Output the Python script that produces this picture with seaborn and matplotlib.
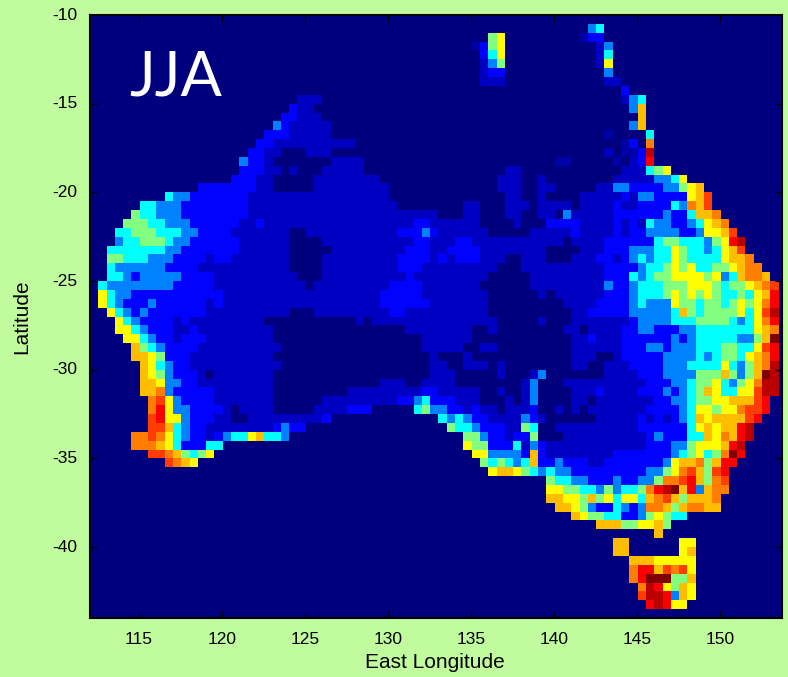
import numpy as np
import seaborn as sns
import matplotlib
matplotlib.use('Agg')
import matplotlib.pyplot as plt
from matplotlib.colors import LinearSegmentedColormap

# level of each letter on the jet scale
LEVELS = {'.': 0.0, 'a': 0.04, 'b': 0.07, 'c': 0.125, 'd': 0.25, 'e': 0.375, 'f': 0.5,
          'g': 0.625, 'h': 0.6875, 'i': 0.75, 'j': 0.8125, 'k': 0.875, 'l': 0.9375, 'm': 1.0}

# matlab style jet
JET = LinearSegmentedColormap.from_list('matlab_jet', [
    (0.0, '#00007f'), (0.125, '#0000ff'), (0.375, '#00ffff'),
    (0.625, '#ffff00'), (0.875, '#ff0000'), (1.0, '#7f0000')])

# one string per grid row (north to south), blocks of ten columns
D = '..........'
ROWS = [
    '',
    ' '.join([D, D, D, D, D, D, 'de........']),
    ' '.join([D, D, D, D, '........fg', '.........a', 'cc........']),
    ' '.join([D, D, D, D, '......acfg', D, '.bd.......']),
    ' '.join([D, D, D, D, '.......ceg', D, '.be.......']),
    ' '.join([D, D, D, D, '.......bdf', D, '.bg.......']),
    ' '.join([D, D, D, D, '.......bcc', D, '..d.......']),
    ' '.join([D, D, D, D, '.......bbb', D, '..bb......']),
    ' '.join([D, D, D, D, D, D, '....c.....']),
    ' '.join([D, D, '.....bbb..', D, D, D, '....bde...']),
    ' '.join([D, D, '....cbb...', D, D, D, '.....dh...']),
    ' '.join([D, D, '...ccbbb..', D, D, D, '......h...']),
    ' '.join([D, D, '..dcbbbbb.', D, D, D, '.....dh...']),
    ' '.join([D, D, '.cccbbbbb.', D, D, D, '..a....e..']),
    ' '.join([D, D, 'ccbbbbbbbb', 'bb........', D, D, '....ac.i..']),
    ' '.join([D, '.........c', 'cbb...bbb.', D, D, D, '..b.aacl..']),
    ' '.join([D, '........dc', 'cb.......b', 'bbb.......', D, '......aa..', '...a.bck..']),
    ' '.join([D, '........cc', 'cbb.b...bb', 'bbb.......', D, 'bb........', '....bbbefg']),
    ' '.join([D, '.......ccc', 'bb.....bbb', 'bbbbb.....', '.........b', 'bb..b.....', '...bbbbbdd', 'eg........']),
    ' '.join([D, '...ccccccc', 'bb.....bbb', 'bbbbbb....', '.........b', 'bb..bb....', '.bbddccccd', 'dfgh......']),
    ' '.join(['.........e', 'ddcccccccb', 'bbbbbbbbbb', 'bbbbbb....', D, 'bb..b....b', 'bbbbcbddcc', 'ccghj.....']),
    ' '.join(['......eedd', 'dccccccccb', 'bbbbbbbbbb', 'bbbbbbb...', '.....bb...', 'bbb.bbbb.b', 'bbbcbbcccc', 'edihj.....']),
    ' '.join(['.....feedd', 'dccccccccb', 'bbbbbbbbbb', 'bbbbbbbbbb', 'bb...bb...', 'bb..bb.dbb', 'bbbccccccd', 'ccehhi....']),
    ' '.join(['....fffeed', 'ddccccccbb', 'cbbbbbbbbb', 'bbbbbbbbbc', 'cbbbbbb...', '.b...ccccb', 'bbbcbcbedd', 'ccdeghi...']),
    ' '.join(['...eefffee', 'eddccccbbb', 'bbbb..bbbb', 'bbbbbbbccc', 'dcbbbbbb..', '...bbbbbcb', 'bbbcbccddd', 'dccdgghj..']),
    ' '.join(['...deefffe', 'ddccccccbb', 'bbbb....bb', 'bbbbbbbbbc', 'cbbbccbbbb', 'bbbbbbb.bb', 'bbccccccef', 'feeedfgkl.']),
    ' '.join(['..eeeeeeed', 'dcccccccbb', 'bbbb.....b', 'bbbbbbbbcc', 'cbbccccbbb', 'bbbbb....b', 'bbcccdddee', 'gfeedeghj.']),
    ' '.join(['..ffeeeddd', 'ccccbccbbb', 'bbbb....bb', 'bbbbbbbccc', 'cbcbcccbbb', '..bbb...bb', 'bccbcdedee', 'gfeeeeghhi']),
    ' '.join(['..eddddddc', 'cccbbbbbbb', 'bbbb....bb', 'bbbbbbbccc', 'bbbbbbbbb.', '..bbbbbbbb', 'bbccccdeef', 'gfgeeffghi', 'i...']),
    ' '.join(['..eedcdddd', 'dccccbbbbb', 'bbbbb...bb', 'bbbbbbbbcb', 'bbbbbbbb..', '...bbbbbbb', 'bbcccedeff', 'ggggfgdehi', 'ih..']),
    ' '.join(['.edddddddd', 'cccccbbbbb', 'bbbbbb.bbb', 'bbbbbbcccc', 'bbbbbbb...', '...bbbbbbb', 'bbdccdeeef', 'ffgggfeffg', 'hij.']),
    ' '.join(['.geddccccc', 'ccccccbbbb', 'bbbbbbbbbb', 'bbbbbccccc', 'bbbbbbbb..', '....b.bbbb', 'bbcccdeeef', 'gfgfgfeefe', 'ghk.']),
    ' '.join(['.gedcccdcc', 'ccccbcbbbb', 'bbbbbbbbbb', 'bbbbbccccc', 'cbbbbbbb..', '.......bbb', 'bccccdeddd', 'gffeffefgf', 'gik.']),
    ' '.join(['..gedcdccc', 'ccccbbbbbb', 'bbbb...bbb', 'bbbbbbccbb', 'bbbbbbbb..', '........bb', 'cccccddddd', 'ehfeffffge', 'gjl.']),
    ' '.join(['...gedcccc', 'bcbbbbbbbb', 'b.........', '..b.bbbbbb', 'bbbbbbbbb.', '....b...bb', 'bbbbbcdddd', 'eeeffffede', 'gik.']),
    ' '.join(['...ggedccc', 'bbcbbbbbbb', 'bb........', '........bb', 'bbbbbb..b.', '.......bb.', 'bbbbccddcc', 'cddeeeeeee', 'ghi.']),
    ' '.join(['....ggedcc', 'bcccbbbbbb', 'bb........', D, 'bbbbbb....', '........bb', 'cbbbcccccc', 'dcdeeeeedd', 'fhm.']),
    ' '.join(['.....hfedc', 'cccbbbbbbb', 'bbb.......', D, 'bbbbb..bb.', '........bb', 'bbbbcccddc', 'dddeeeffee', 'gjk.']),
    ' '.join(['.....hhgfc', 'ccbbbbbbbb', 'bb........', D, '.b...b....', '........bb', 'b..bcccccd', 'dddedeffeg', 'hik.']),
    ' '.join(['......hged', 'ccbbbbbbbb', 'bbb.......', D, '.bb..bbb.b', '........bb', '..bbbccccd', 'ddeeeegedf', 'hil.']),
    ' '.join(['......hgfd', 'cccb.bbbbb', 'bb........', D, '.bbb.....b', '...bd.....', '..bbbbcccd', 'dddfffhfdf', 'hml.']),
    ' '.join(['......hhgd', 'dccbbbbbbb', 'bb........', '.....bbb..', 'bbbb......', '..bd...bbb', 'bbbbbbbccc', 'ddeffgedfg', 'ill.']),
    ' '.join(['......hhid', 'cccccbbbbb', 'bb........', '.bbbbbbbbb', 'ccbbbbb..b', '..bd....bb', 'bcbbbbcccd', 'cdefhgeegg', 'jll.']),
    ' '.join(['.......ijg', 'dccccbbbbb', 'bb......bb', 'bbbbbbbccd', 'ecccbbb...', 'b.bd....bb', '.bbbbbbbcc', 'ddeffgghhh', 'jk..']),
    ' '.join(['.......ikg', 'ddccccb.bb', 'bb.....bbb', 'bccc.....e', 'fddccbcbb.', 'bbbc..b.b.', 'bbbbbbbccc', 'cdeggfggij', 'jk..']),
    ' '.join(['.......jkg', 'gdcccbb..b', 'bbbbbbbbc.', D, '..ededccbb', 'bbdcb.....', '.bbbbbcbcb', 'cdehghhhhj', 'k...']),
    ' '.join(['.......jjh', 'edccbbbbbb', 'bbcdcc....', D, '...feedccc', 'bbfe..bbbb', 'bbbbbbcccc', 'cceghghhkl']),
    ' '.join(['.....iijig', 'edccbcdeeg', 'heed......', D, '.....ffdcc', 'bccf...bbb', 'bbbbbbbcdc', 'cceehgihkl']),
    ' '.join(['.....iiihg', 'ecccee....', D, D, '.....gffcc', 'cebdcbbbbb', 'bbbbbbbccc', 'ddfggghkl.']),
    ' '.join(['.......jji', 'hfefg.....', D, D, '......ggdd', 'ddchcbbbbb', 'bbbccccccc', 'defgefimk.']),
    ' '.join(['.........j', 'ihg.......', D, D, '.......fef', 'edehccdccc', 'bbcccccccd', 'ghhifhkk..']),
    ' '.join([D, D, D, D, '........gh', 'hgfededdcc', 'cccccccddf', 'gijhfjk...']),
    ' '.join([D, D, D, D, D, '.....feedd', 'cccdccddfi', 'ijkhfij...']),
    ' '.join([D, D, D, D, D, '.....ggffe', 'edfdeefikl', 'mhkdhii...']),
    ' '.join([D, D, D, D, D, '.....hhggf', 'hfgeggehij', 'hfhhhi....']),
    ' '.join([D, D, D, D, D, '......hhgf', 'dccedcdiih', 'fhiihh....']),
    ' '.join([D, D, D, D, D, '........hg', 'ffeeccdfgf', 'ee........']),
    ' '.join([D, D, D, D, D, D, '.hhhffgghf']),
    ' '.join([D, D, D, D, D, D, '........h.']),
    ' '.join([D, D, D, D, D, D, '...hh.....', '.gg.......']),
    ' '.join([D, D, D, D, D, D, '...hh.....', '.gh.......']),
    ' '.join([D, D, D, D, D, D, '.....hhhgg', 'ggg.......']),
    ' '.join([D, D, D, D, D, D, '.....ikkhj', 'ijg.......']),
    ' '.join([D, D, D, D, D, D, '.....ikmmm', 'ffh.......']),
    ' '.join([D, D, D, D, D, D, '......ilkg', 'fhg.......']),
    ' '.join([D, D, D, D, D, D, '......jllk', 'dhg.......']),
    ' '.join([D, D, D, D, D, D, '.......klk', 'gg........']),
    '',
]

LON_TICKS = [115, 120, 125, 130, 135, 140, 145, 150]
LAT_TICKS = [-10, -15, -20, -25, -30, -35, -40]
N_COLS = 84

grid = np.zeros((len(ROWS), N_COLS))
for r, row in enumerate(ROWS):
    for c, ch in enumerate(row.replace(' ', '')[:N_COLS]):
        grid[r, c] = LEVELS[ch]

W, H = 788, 677
fig = plt.figure(figsize=(W / 100, H / 100), dpi=100, facecolor='#c0fb9e')
ax = fig.add_axes([90 / W, 1 - 618 / H, 692 / W, 603 / H])
sns.heatmap(grid, ax=ax, cmap=JET, vmin=0, vmax=1, cbar=False, square=False, rasterized=True)

ax.set_xlim(0, 83.4)
ax.set_ylim(68, 0)
for s in ax.spines.values():
    s.set_visible(True)
    s.set_linewidth(1.5)
    s.set_color('black')
ax.set_xticks([(v - 112.05) * 2 for v in LON_TICKS])
ax.set_xticklabels([str(v) for v in LON_TICKS], rotation=0)
ax.set_yticks([(-10 - v) * 2 for v in LAT_TICKS])
ax.set_yticklabels([str(v) for v in LAT_TICKS], rotation=0)
ax.tick_params(direction='in', length=5, width=1, top=True, right=True,
               labelsize=12.5, pad=9, labelfontfamily='Liberation Sans')
ax.tick_params(axis='x', pad=10)

fig.text(435 / W, 1 - 662 / H, 'East Longitude', ha='center', va='center',
         fontsize=15, family='Liberation Sans')
fig.text(22 / W, 1 - 317 / H, 'Latitude', ha='center', va='center', rotation=90,
         fontsize=15, family='Liberation Sans')
fig.text(129 / W, 1 - 95 / H, 'JJA', color='white', fontsize=44, family='Lato',
         ha='left', va='baseline')

plt.savefig('out.png', dpi=100, facecolor=fig.get_facecolor())
